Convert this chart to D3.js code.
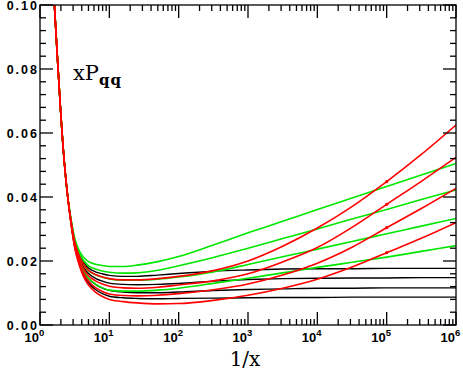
<!DOCTYPE html>
<html><head><meta charset="utf-8">
<script src="https://cdn.jsdelivr.net/npm/d3@7"></script>
<style>body{margin:0;background:#fff}svg{display:block}</style>
</head><body><svg id="c" width="463" height="372"></svg>
<script>
// 1/x sample points
const invX = [1.585, 1.778, 1.995, 2.239, 2.512, 2.818, 3.162, 3.548, 3.981, 4.467, 5.012, 6.310, 7.943, 10, 15.85, 25.12, 50.12, 100, 316.2, 1000, 3162, 1e4, 31623, 1e5, 316228, 1e6];

const black1 = [0.103,0.084,0.066,0.051,0.040, 0.0324,0.0264,0.0229,0.0205,0.0189,0.0178,0.0166,0.0160,0.0155, 0.0152,0.0152,0.0156,0.0161,0.0168,0.0172,0.0175,0.0176,0.0176,0.0177,0.0177,0.0177];
const black2 = [0.103,0.084,0.066,0.051,0.040, 0.0320,0.0257,0.0219,0.0193,0.0174,0.0161,0.0146,0.0137,0.0131, 0.0127,0.0126,0.0127,0.0130,0.0137,0.0142,0.0145,0.0146,0.0147,0.0147,0.0148,0.0148];
const black3 = [0.103,0.084,0.066,0.051,0.040, 0.0316,0.0250,0.0209,0.0181,0.0160,0.0145,0.0127,0.0115,0.0108, 0.0103,0.0101,0.0101,0.0103,0.0108,0.0111,0.0113,0.0115,0.0115,0.0116,0.0116,0.0116];
const black4 = [0.103,0.084,0.066,0.051,0.040, 0.0314,0.0245,0.0202,0.0171,0.0148,0.0132,0.0111,0.0098,0.0090, 0.0085,0.0083,0.0082,0.0083,0.0084,0.0085,0.0086,0.0086,0.0087,0.0087,0.0087,0.0087];

const green1 = [0.103,0.084,0.066,0.051,0.040, 0.0328,0.0272,0.0240,0.0220,0.0207,0.0198,0.0190,0.0186,0.0183, 0.0183,0.0187,0.0198,0.0214,0.0250,0.0288,0.0324,0.0361,0.0397,0.0433,0.0469,0.0505];
const green2 = [0.103,0.084,0.066,0.051,0.040, 0.0325,0.0267,0.0233,0.0211,0.0196,0.0185,0.0175,0.0169,0.0165, 0.0162,0.0163,0.0171,0.0185,0.0211,0.0240,0.0270,0.0300,0.0331,0.0361,0.0392,0.0422];
const green3 = [0.103,0.084,0.066,0.051,0.040, 0.0322,0.0261,0.0224,0.0200,0.0182,0.0170,0.0157,0.0149,0.0144, 0.0140,0.0140,0.0143,0.0150,0.0166,0.0189,0.0213,0.0237,0.0261,0.0285,0.0309,0.0333];
const green4 = [0.103,0.084,0.066,0.051,0.040, 0.0317,0.0251,0.0210,0.0181,0.0160,0.0146,0.0128,0.0116,0.0109, 0.0106,0.0106,0.0109,0.0115,0.0130,0.0146,0.0163,0.0180,0.0196,0.0212,0.0230,0.0248];

const red1 = [0.103,0.084,0.066,0.051,0.040, 0.0322,0.0261,0.0225,0.0200,0.0183,0.0171,0.0158,0.0150,0.0145, 0.0141,0.0141,0.0145,0.0152,0.0170,0.0200,0.0246,0.0303,0.0370,0.0448,0.0533,0.0625];
const red2 = [0.103,0.084,0.066,0.051,0.040, 0.0318,0.0254,0.0215,0.0188,0.0168,0.0154,0.0138,0.0128,0.0121, 0.0116,0.0115,0.0118,0.0125,0.0138,0.0160,0.0197,0.0242,0.0305,0.0377,0.0449,0.0524];
const red3 = [0.103,0.084,0.066,0.051,0.040, 0.0315,0.0247,0.0205,0.0175,0.0153,0.0137,0.0117,0.0105,0.0097, 0.0092,0.0091,0.0093,0.0098,0.0110,0.0128,0.0156,0.0193,0.0243,0.0304,0.0364,0.0427];
const red4 = [0.103,0.084,0.066,0.051,0.040, 0.0312,0.0242,0.0198,0.0166,0.0142,0.0125,0.0103,0.0089,0.0080, 0.0073,0.0069,0.0066,0.0067,0.0077,0.0093,0.0115,0.0143,0.0181,0.0226,0.0271,0.0320];

// marker position on the red curves (1/x = 1e5)
const markX = 1e5;

const yMajor = [0, 0.02, 0.04, 0.06, 0.08, 0.10];
const yLabels = ["0.00", "0.02", "0.04", "0.06", "0.08", "0.10"];
const xMajor = [1, 10, 100, 1e3, 1e4, 1e5, 1e6];
const xExp = ["0", "1", "2", "3", "4", "5", "6"];

const L = 40, R = 456, T = 5, B = 325;
const x = d3.scaleLog().domain([1, 1e6]).range([L, R]);
const y = d3.scaleLinear().domain([0, 0.1]).range([B, T]);

const svg = d3.select("#c");
svg.append("defs").append("clipPath").attr("id", "clip")
  .append("rect").attr("x", L).attr("y", T).attr("width", R - L).attr("height", B - T);

const line = d3.line().x((d, i) => x(invX[i])).y(d => y(d)).curve(d3.curveMonotoneX);
const plot = svg.append("g").attr("clip-path", "url(#clip)");

const groups = [
  {data: [black1, black2, black3, black4], color: "#000000", w: 1.4},
  {data: [green1, green2, green3, green4], color: "#00e600", w: 1.6},
  {data: [red1, red2, red3, red4], color: "#ff0000", w: 1.6}
];
groups.forEach(g => {
  g.data.forEach(s => {
    plot.append("path").attr("d", line(s)).attr("fill", "none")
      .attr("stroke", g.color).attr("stroke-width", g.w).attr("stroke-linejoin", "round");
  });
});
const mi = invX.indexOf(markX);
[red1, red2, red3, red4].forEach(s => {
  plot.append("circle").attr("cx", x(markX)).attr("cy", y(s[mi])).attr("r", 1.6).attr("fill", "#ff0000");
});

// frame and ticks
const ax = svg.append("g").attr("stroke", "#000").attr("stroke-width", 1.3);
ax.append("rect").attr("x", L).attr("y", T).attr("width", R - L).attr("height", B - T).attr("fill", "none");

const yMinor = d3.range(0, 0.1001, 0.004).filter(v => !yMajor.some(m => Math.abs(m - v) < 1e-9));
yMajor.forEach(v => {
  ax.append("line").attr("x1", L).attr("x2", L + 13).attr("y1", y(v)).attr("y2", y(v));
  ax.append("line").attr("x1", R).attr("x2", R - 13).attr("y1", y(v)).attr("y2", y(v));
});
yMinor.forEach(v => {
  ax.append("line").attr("x1", L).attr("x2", L + 6).attr("y1", y(v)).attr("y2", y(v));
  ax.append("line").attr("x1", R).attr("x2", R - 6).attr("y1", y(v)).attr("y2", y(v));
});
const xMinor = [];
for (let d = 0; d < 6; d++) for (let k = 2; k <= 9; k++) xMinor.push(k * Math.pow(10, d));
xMajor.forEach(v => {
  ax.append("line").attr("x1", x(v)).attr("x2", x(v)).attr("y1", B).attr("y2", B - 13);
  ax.append("line").attr("x1", x(v)).attr("x2", x(v)).attr("y1", T).attr("y2", T + 13);
});
xMinor.forEach(v => {
  ax.append("line").attr("x1", x(v)).attr("x2", x(v)).attr("y1", B).attr("y2", B - 6);
  ax.append("line").attr("x1", x(v)).attr("x2", x(v)).attr("y1", T).attr("y2", T + 6);
});

// tick labels
const lab = svg.append("g").attr("font-family", "'Liberation Sans', Arial, sans-serif").attr("font-weight", "bold").attr("fill", "#000");
yMajor.forEach((v, i) => {
  lab.append("text").attr("x", 39).attr("y", y(v) + 5).attr("text-anchor", "end")
    .attr("font-size", 12.5).attr("letter-spacing", 2).text(yLabels[i]);
});
xMajor.forEach((v, i) => {
  lab.append("text").attr("x", x(v) - 1).attr("y", 342).attr("text-anchor", "end")
    .attr("font-size", 13).text("10");
  lab.append("text").attr("x", x(v) - 1).attr("y", 336).attr("text-anchor", "start")
    .attr("font-size", 9.5).text(xExp[i]);
});

// axis title
svg.append("text").attr("x", 245).attr("y", 366).attr("text-anchor", "middle")
  .attr("font-family", "'DejaVu Serif', serif").attr("font-size", 20).text("1/x");

// panel label
const t = svg.append("text").attr("x", 73).attr("y", 80)
  .attr("font-family", "'DejaVu Serif', serif").attr("font-size", 21);
t.append("tspan").text("xP");
t.append("tspan").attr("dy", 5).attr("font-size", 15).attr("font-weight", "bold").attr("letter-spacing", 1).text("qq");
</script></body></html>
